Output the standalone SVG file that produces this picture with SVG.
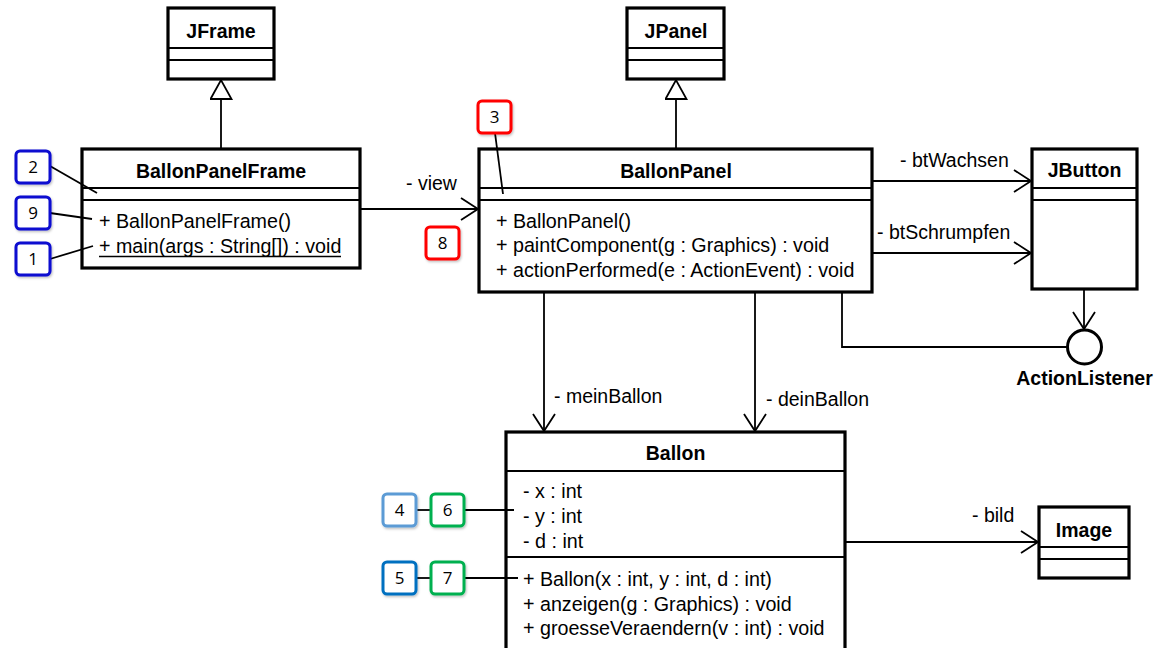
<svg xmlns="http://www.w3.org/2000/svg" width="1157" height="648" viewBox="0 0 1157 648">
<style>
.box{fill:#fff;stroke:#000;stroke-width:3.2}
.div{stroke:#000;stroke-width:1.8}
.t{font-family:"Liberation Sans",Arial,sans-serif;font-size:19.5px;font-weight:bold;fill:#000;text-anchor:middle}
.m{font-family:"Liberation Sans",Arial,sans-serif;font-size:19.7px;fill:#000}
.lbl{font-family:"Liberation Sans",Arial,sans-serif;font-size:19.5px;fill:#000}
.con{fill:none;stroke:#000;stroke-width:1.8}
.badge{fill:#fff;stroke-width:3;filter:url(#sh)}
.bn{font-family:"Open Sans","Noto Sans",sans-serif;font-size:17px;fill:#000;text-anchor:middle}
.ann{stroke:#000;stroke-width:1.8;fill:none}
</style>
<defs>
<marker id="open" markerUnits="userSpaceOnUse" markerWidth="22" markerHeight="26" refX="18" refY="12" orient="auto">
<polyline points="1,1 18,12 1,23" fill="none" stroke="#000" stroke-width="1.8"/>
</marker>
<marker id="inh" markerUnits="userSpaceOnUse" markerWidth="24" markerHeight="26" refX="20" refY="11.5" orient="auto">
<polygon points="1,1 20,11.5 1,22" fill="#fff" stroke="#000" stroke-width="1.8"/>
</marker>
<filter id="sh" x="-20%" y="-20%" width="150%" height="150%">
<feDropShadow dx="1" dy="1.5" stdDeviation="1.2" flood-color="#000" flood-opacity="0.25"/>
</filter>
</defs>

<g id="connectors">
<line class="con" x1="221" y1="149" x2="221" y2="80" marker-end="url(#inh)"/>
<line class="con" x1="676" y1="149" x2="676" y2="80" marker-end="url(#inh)"/>
<line class="con" x1="360" y1="209" x2="478" y2="209" marker-end="url(#open)"/>
<line class="con" x1="872" y1="181" x2="1031" y2="181" marker-end="url(#open)"/>
<line class="con" x1="872" y1="253" x2="1031" y2="253" marker-end="url(#open)"/>
<line class="con" x1="1084" y1="289" x2="1084" y2="329" marker-end="url(#open)"/>
<polyline class="con" points="842,292 842,347 1067,347"/>
<line class="con" x1="544" y1="292" x2="544" y2="431" marker-end="url(#open)"/>
<line class="con" x1="755" y1="292" x2="755" y2="431" marker-end="url(#open)"/>
<line class="con" x1="845" y1="542" x2="1038" y2="542" marker-end="url(#open)"/>
<text class="lbl" x="406" y="190">- view</text>
<text class="lbl" x="900" y="167">- btWachsen</text>
<text class="lbl" x="877" y="239">- btSchrumpfen</text>
<text class="lbl" x="554" y="403">- meinBallon</text>
<text class="lbl" x="766" y="406">- deinBallon</text>
<text class="lbl" x="972" y="522">- bild</text>
</g>

<g id="JFrame">
<rect class="box" x="168" y="8" width="106" height="71"/>
<line class="div" x1="168" y1="48" x2="274" y2="48"/>
<line class="div" x1="168" y1="60" x2="274" y2="60"/>
<text class="t" x="221" y="38">JFrame</text>
</g>

<g id="JPanel">
<rect class="box" x="627" y="8" width="97" height="71"/>
<line class="div" x1="627" y1="48" x2="724" y2="48"/>
<line class="div" x1="627" y1="60" x2="724" y2="60"/>
<text class="t" x="676" y="38">JPanel</text>
</g>

<g id="BallonPanelFrame">
<rect class="box" x="82" y="149" width="278" height="119"/>
<line class="div" x1="82" y1="188" x2="360" y2="188"/>
<line class="div" x1="82" y1="200" x2="360" y2="200"/>
<text class="t" x="221" y="178">BallonPanelFrame</text>
<text class="m" x="99" y="228">+ BallonPanelFrame()</text>
<text class="m" x="99" y="253">+ main(args : String[]) : void</text>
<line x1="99" y1="256.5" x2="341" y2="256.5" stroke="#000" stroke-width="1.3"/>
</g>

<g id="BallonPanel">
<rect class="box" x="479" y="149" width="393" height="143"/>
<line class="div" x1="479" y1="188" x2="872" y2="188"/>
<line class="div" x1="479" y1="200" x2="872" y2="200"/>
<text class="t" x="676" y="178">BallonPanel</text>
<text class="m" x="496" y="228">+ BallonPanel()</text>
<text class="m" x="496" y="252">+ paintComponent(g : Graphics) : void</text>
<text class="m" x="496" y="277">+ actionPerformed(e : ActionEvent) : void</text>
</g>

<g id="JButton">
<rect class="box" x="1032" y="149" width="105" height="140"/>
<line class="div" x1="1032" y1="188" x2="1137" y2="188"/>
<line class="div" x1="1032" y1="200" x2="1137" y2="200"/>
<text class="t" x="1084.5" y="177">JButton</text>
</g>

<g id="ActionListener">
<circle cx="1084.5" cy="347" r="17" fill="#fff" stroke="#000" stroke-width="3"/>
<text class="t" x="1084.5" y="385">ActionListener</text>
</g>

<g id="Ballon">
<rect class="box" x="506" y="432" width="339" height="240"/>
<line class="div" x1="506" y1="471" x2="845" y2="471"/>
<line class="div" x1="506" y1="557" x2="845" y2="557"/>
<text class="t" x="675.5" y="460">Ballon</text>
<text class="m" x="523" y="498">- x : int</text>
<text class="m" x="523" y="523">- y : int</text>
<text class="m" x="523" y="548">- d : int</text>
<text class="m" x="523" y="586">+ Ballon(x : int, y : int, d : int)</text>
<text class="m" x="523" y="611">+ anzeigen(g : Graphics) : void</text>
<text class="m" x="523" y="635">+ groesseVeraendern(v : int) : void</text>
</g>

<g id="Image">
<rect class="box" x="1039" y="507" width="90" height="71"/>
<line class="div" x1="1039" y1="547" x2="1129" y2="547"/>
<line class="div" x1="1039" y1="559" x2="1129" y2="559"/>
<text class="t" x="1084" y="537">Image</text>
</g>

<g id="annotations">
<line class="ann" x1="50" y1="166" x2="97" y2="193"/>
<line class="ann" x1="50" y1="213" x2="92" y2="219"/>
<line class="ann" x1="50" y1="259" x2="93" y2="246"/>
<line class="ann" x1="495" y1="133" x2="503" y2="194"/>
<line class="ann" x1="416" y1="510" x2="431" y2="510"/>
<line class="ann" x1="464" y1="510" x2="514" y2="510"/>
<line class="ann" x1="416" y1="578" x2="431" y2="578"/>
<line class="ann" x1="464" y1="578" x2="518" y2="578"/>
</g>

<g id="badge2"><rect class="badge" x="16" y="151" width="34" height="32" rx="4" stroke="#0a0ad0"/><text class="bn" x="33" y="173">2</text></g>
<g id="badge9"><rect class="badge" x="16" y="197" width="34" height="32" rx="4" stroke="#0a0ad0"/><text class="bn" x="33" y="219">9</text></g>
<g id="badge1"><rect class="badge" x="16" y="243" width="34" height="32" rx="4" stroke="#0a0ad0"/><text class="bn" x="33" y="265">1</text></g>
<g id="badge3"><rect class="badge" x="478" y="101" width="33" height="32" rx="4" stroke="#ff0000"/><text class="bn" x="494.5" y="123">3</text></g>
<g id="badge8"><rect class="badge" x="426" y="227" width="33" height="32" rx="4" stroke="#ff0000"/><text class="bn" x="442.5" y="249">8</text></g>
<g id="badge4"><rect class="badge" x="383" y="494" width="33" height="32" rx="4" stroke="#5b9bd5"/><text class="bn" x="399.5" y="516">4</text></g>
<g id="badge6"><rect class="badge" x="431" y="494" width="33" height="32" rx="4" stroke="#00b050"/><text class="bn" x="447.5" y="516">6</text></g>
<g id="badge5"><rect class="badge" x="383" y="562" width="33" height="32" rx="4" stroke="#0070c0"/><text class="bn" x="399.5" y="584">5</text></g>
<g id="badge7"><rect class="badge" x="431" y="562" width="33" height="32" rx="4" stroke="#00b050"/><text class="bn" x="447.5" y="584">7</text></g>
</svg>
